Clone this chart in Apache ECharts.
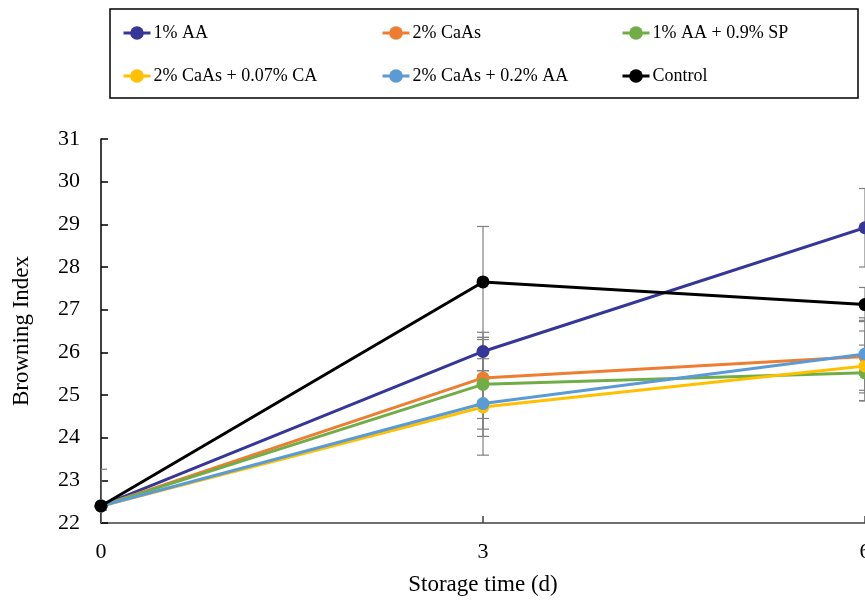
<!DOCTYPE html>
<html>
<head>
<meta charset="utf-8">
<script src="https://cdn.jsdelivr.net/npm/echarts@6/dist/echarts.min.js"></script>
<style>html,body{margin:0;padding:0;background:#fff}#chart{width:865px;height:600px}</style>
</head>
<body>
<div id="chart"></div>
<script>
var days = [0, 3, 6];
var seriesNames = ['1% AA', '2% CaAs', '1% AA + 0.9% SP', '2% CaAs + 0.07% CA', '2% CaAs + 0.2% AA', 'Control'];
var aa1 = [22.40, 26.02, 28.92];
var caas2 = [22.40, 25.40, 25.90];
var aaSp = [22.40, 25.25, 25.52];
var caasCa = [22.40, 24.72, 25.68];
var caasAa = [22.40, 24.80, 25.96];
var control = [22.40, 27.65, 27.12];
var aa1Err = [0.10, 0.45, 0.92];
var caas2Err = [0.10, 0.95, 0.85];
var aaSpErr = [0.10, 1.05, 0.65];
var caasCaErr = [0.10, 1.13, 0.82];
var caasAaErr = [0.10, 0.77, 0.85];
var controlErr = [0.86, 1.30, 0.40];
var colors = ['#363699', '#ED7D31', '#70AD47', '#FFC000', '#5B9BD5', '#000000'];

var values = [aa1, caas2, aaSp, caasCa, caasAa, control];
var errs = [aa1Err, caas2Err, aaSpErr, caasCaErr, caasAaErr, controlErr];

var font = 'Liberation Serif, Times New Roman, serif';
var chart = echarts.init(document.getElementById('chart'));

var series = [];
values.forEach(function (vals, i) {
  var errData = days.map(function (d, j) { return [d, vals[j] - errs[i][j], vals[j] + errs[i][j]]; });
  series.push({
    type: 'custom',
    name: seriesNames[i] + ' err',
    z: 1,
    silent: true,
    clip: true,
    data: errData,
    renderItem: function (params, api) {
      var top = api.coord([api.value(0), api.value(2)]);
      var bot = api.coord([api.value(0), api.value(1)]);
      var hw = 6;
      var st = { stroke: '#7f7f7f', lineWidth: 1.2 };
      return {
        type: 'group',
        children: [
          { type: 'line', shape: { x1: top[0], y1: top[1], x2: bot[0], y2: bot[1] }, style: st },
          { type: 'line', shape: { x1: top[0] - hw, y1: top[1], x2: top[0] + hw, y2: top[1] }, style: st },
          { type: 'line', shape: { x1: bot[0] - hw, y1: bot[1], x2: bot[0] + hw, y2: bot[1] }, style: st }
        ]
      };
    }
  });
});
values.forEach(function (vals, i) {
  series.push({
    type: 'line',
    name: seriesNames[i],
    z: 3 + i,
    clip: false,
    data: days.map(function (d, j) { return [d, vals[j]]; }),
    symbol: 'circle',
    symbolSize: 13,
    lineStyle: { width: 3, color: colors[i] },
    itemStyle: { color: colors[i] }
  });
});

var legendPos = [[122, 24], [381, 24], [621, 24], [122, 67], [381, 67], [621, 67]];
var legends = seriesNames.map(function (n, i) {
  return {
    data: [n],
    left: legendPos[i][0],
    top: legendPos[i][1],
    padding: 0,
    itemWidth: 27,
    itemHeight: 17,
    itemGap: 0,
    selectedMode: false,
    itemStyle: {},
    lineStyle: { width: 3 },
    textStyle: { fontFamily: font, fontSize: 18, color: '#000', padding: [0, 0, 0, -2] }
  };
});

chart.setOption({
  animation: false,
  color: colors,
  graphic: [{
    type: 'rect',
    shape: { x: 110, y: 9, width: 748, height: 89 },
    style: { fill: 'none', stroke: '#000', lineWidth: 1.5 },
    z: 0
  }],
  legend: legends,
  grid: { left: 101, right: 0, top: 139, bottom: 77, containLabel: false, outerBoundsMode: 'none' },
  xAxis: {
    type: 'value', min: 0, max: 6, interval: 3,
    name: 'Storage time (d)', nameLocation: 'middle', nameGap: 50,
    nameTextStyle: { fontFamily: font, fontSize: 23, color: '#000' },
    axisLine: { lineStyle: { color: '#404040', width: 1.5 } },
    axisTick: { inside: true, length: 7, lineStyle: { color: '#404040', width: 1.5 } },
    axisLabel: { fontFamily: font, fontSize: 22, color: '#000', margin: 18 },
    splitLine: { show: false }
  },
  yAxis: {
    type: 'value', min: 22, max: 31, interval: 1,
    name: 'Browning Index', nameLocation: 'middle', nameGap: 68,
    nameTextStyle: { fontFamily: font, fontSize: 23, color: '#000' },
    axisLine: { show: true, lineStyle: { color: '#000', width: 1.5 } },
    axisTick: { show: true, inside: true, length: 7, lineStyle: { color: '#000', width: 1.5 } },
    axisLabel: { fontFamily: font, fontSize: 22, color: '#000', margin: 21 },
    splitLine: { show: false }
  },
  series: series
});
</script>
</body>
</html>
